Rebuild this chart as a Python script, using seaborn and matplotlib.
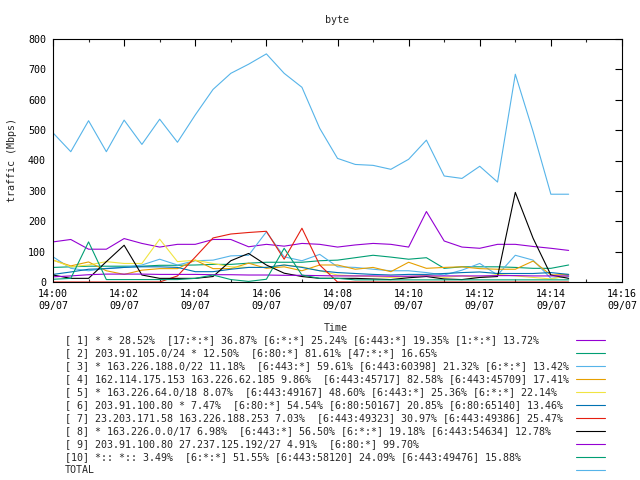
import numpy as np
import pandas as pd
import matplotlib
matplotlib.use("Agg")
import matplotlib.pyplot as plt
import matplotlib.dates as mdates
from matplotlib.lines import Line2D
import seaborn as sns

times = pd.date_range("2021-09-07 14:00:00", periods=30, freq="30s")

s1 = [132,140,108,108,143,127,115,124,124,140,140,116,124,118,127,124,115,122,127,124,115,232,135,115,111,124,124,117,111,104]
s2 = [48,50,52,52,52,52,55,55,56,58,58,62,65,65,65,70,72,80,88,82,75,80,45,50,50,50,48,45,45,56]
s3 = [83,45,37,45,48,56,75,56,70,72,86,88,165,83,70,91,50,48,42,37,37,31,23,39,61,23,88,72,12,18]
s4 = [72,53,66,37,25,39,44,44,72,44,44,62,45,50,37,56,56,42,48,34,65,45,48,50,44,42,42,69,23,25]
s5 = [72,50,56,67,61,61,141,67,72,61,50,48,48,56,50,37,23,20,18,15,18,22,15,20,15,25,20,15,10,22]
s6 = [25,33,42,44,48,50,50,48,34,34,42,48,48,56,48,37,31,28,25,23,25,25,28,31,33,28,28,28,31,25]
s7 = [0,0,0,0,0,0,0,20,82,145,158,163,167,75,177,56,0,0,0,0,0,0,0,0,0,0,0,0,0,0]
s8 = [23,12,12,67,121,23,12,12,12,18,70,94,56,29,18,12,12,12,10,8,14,18,10,8,15,18,295,144,23,12]
s9 = [17,20,24,26,26,26,25,25,25,24,24,23,23,22,22,21,20,20,20,19,19,20,20,20,20,21,21,20,20,20]
s10 = [9,12,132,8,8,8,8,8,12,23,8,2,9,111,23,12,12,7,7,7,7,7,7,7,7,7,7,7,7,7]
total = [491,429,531,429,533,453,536,460,550,634,687,717,751,687,641,506,407,387,384,371,404,467,349,341,381,329,684,495,289,289]

labels = [
    "[ 1] * * 28.52%  [17:*:*] 36.87% [6:*:*] 25.24% [6:443:*] 19.35% [1:*:*] 13.72%",
    "[ 2] 203.91.105.0/24 * 12.50%  [6:80:*] 81.61% [47:*:*] 16.65%",
    "[ 3] * 163.226.188.0/22 11.18%  [6:443:*] 59.61% [6:443:60398] 21.32% [6:*:*] 13.42%",
    "[ 4] 162.114.175.153 163.226.62.185 9.86%  [6:443:45717] 82.58% [6:443:45709] 17.41%",
    "[ 5] * 163.226.64.0/18 8.07%  [6:443:49167] 48.60% [6:443:*] 25.36% [6:*:*] 22.14%",
    "[ 6] 203.91.100.80 * 7.47%  [6:80:*] 54.54% [6:80:50167] 20.85% [6:80:65140] 13.46%",
    "[ 7] 23.203.171.58 163.226.188.253 7.03%  [6:443:49323] 30.97% [6:443:49386] 25.47%",
    "[ 8] * 163.226.0.0/17 6.98%  [6:443:*] 56.50% [6:*:*] 19.18% [6:443:54634] 12.78%",
    "[ 9] 203.91.100.80 27.237.125.192/27 4.91%  [6:80:*] 99.70%",
    "[10] *:: *:: 3.49%  [6:*:*] 51.55% [6:443:58120] 24.09% [6:443:49476] 15.88%",
    "TOTAL",
]
colors = ['#9400d3', '#009e73', '#56b4e9', '#e69f00', '#f0e442', '#0072b2',
          '#e51e10', '#000000', '#9400d3', '#009e73', '#56b4e9']
series = [s1, s2, s3, s4, s5, s6, s7, s8, s9, s10, total]

frames = []
for lab, vals in zip(labels, series):
    frames.append(pd.DataFrame({"time": times, "value": vals, "series": lab}))
df = pd.concat(frames, ignore_index=True)

sns.set_theme(style="white")
plt.rcParams['font.family'] = ['DejaVu Sans Mono', 'DejaVu Sans']
FS = 7.2

fig = plt.figure(figsize=(6.4, 4.8), dpi=100)
ax = fig.add_axes([53/640, 1-282/480, (622-53)/640, (282-39)/480])

for lab, col in zip(labels, colors):
    sub = df[df["series"] == lab]
    sns.lineplot(data=sub, x="time", y="value", color=col, lw=0.8, ax=ax,
                 legend=False, estimator=None)

ax.set_xlim(pd.Timestamp("2021-09-07 14:00"), pd.Timestamp("2021-09-07 14:16"))
ax.set_ylim(0, 800)
ax.set_yticks(np.arange(0, 801, 100))
ax.xaxis.set_major_locator(mdates.MinuteLocator(byminute=range(0, 60, 2)))
ax.xaxis.set_minor_locator(mdates.MinuteLocator())
ax.xaxis.set_major_formatter(mdates.DateFormatter("%H:%M\n%m/%d"))
ax.tick_params(axis='both', which='major', direction='in', length=5, width=0.8,
               top=True, right=True, labelsize=FS, colors='black', pad=5)
ax.tick_params(axis='x', which='minor', direction='in', length=2.5, width=0.8,
               top=True, bottom=True)
for lbl in ax.get_xticklabels():
    lbl.set_linespacing(1.3)
for sp in ax.spines.values():
    sp.set_color('black')
    sp.set_linewidth(0.8)
ax.set_xlabel("")
ax.set_ylabel("")
ax.grid(False)

fig.text(337/640, 1-20/480, "byte", ha='center', va='center', fontsize=FS)
fig.text(336/640, 1-328/480, "Time", ha='center', va='center', fontsize=FS)
fig.text(12/640, 1-160/480, "traffic (Mbps)", ha='center', va='center',
         rotation=90, fontsize=FS)

for i, (lab, col) in enumerate(zip(labels, colors)):
    y = 1 - (340 + 13*i)/480
    fig.text(65/640, y, lab, ha='left', va='center', fontsize=FS)
    fig.add_artist(Line2D([576/640, 605/640], [y, y], color=col, lw=0.8,
                          transform=fig.transFigure))

fig.savefig("out.png", dpi=100, facecolor='white')
